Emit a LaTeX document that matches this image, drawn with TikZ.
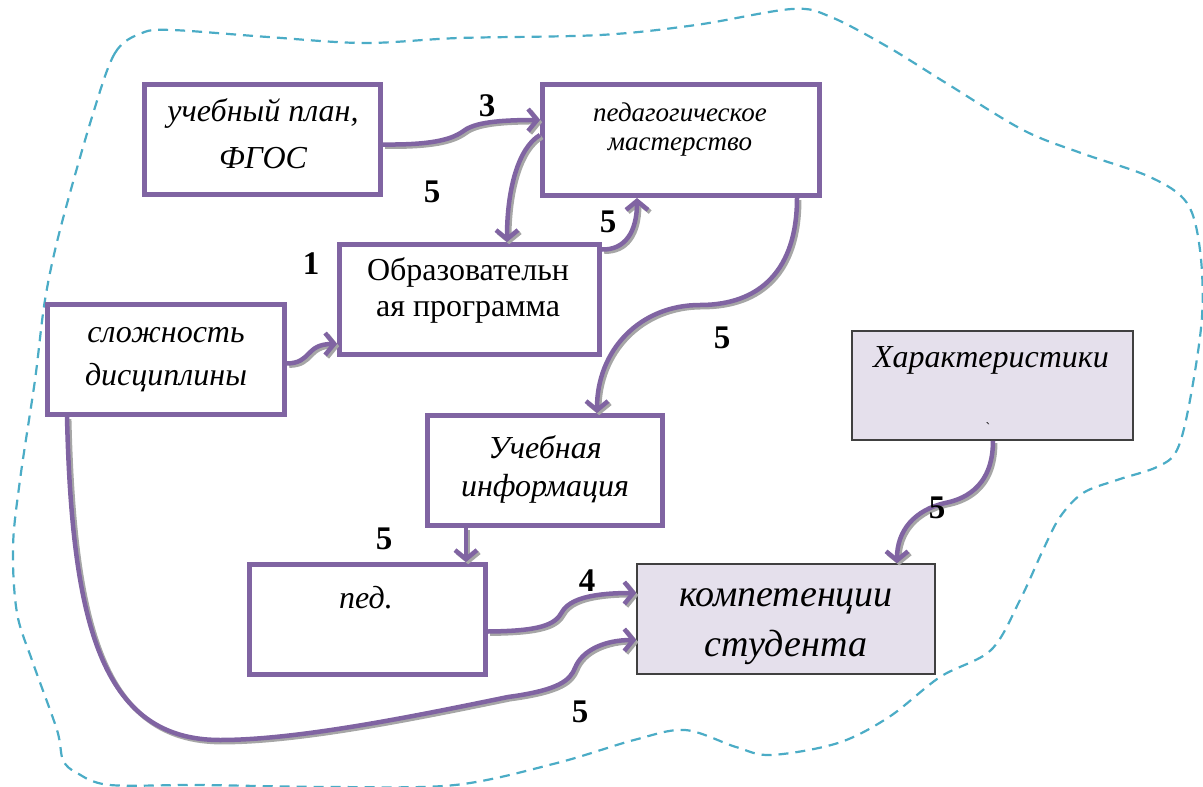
\documentclass[tikz,border=0pt]{standalone}
\usepackage{fontspec}
\setmainfont{Liberation Serif}
\usetikzlibrary{arrows.meta}
\definecolor{boxpurple}{HTML}{8064A2}
\definecolor{cloudblue}{HTML}{4BACC6}
\definecolor{lilac}{HTML}{E5E0EC}
\definecolor{edgegray}{HTML}{404040}

\begin{document}
\begin{tikzpicture}[x=1pt,y=-1pt,
  pbox/.style={draw=boxpurple, line width=5pt, fill=white, inner sep=0},
  lbox/.style={draw=edgegray, line width=1.6pt, fill=lilac, inner sep=0},
  txt/.style={font=\fontsize{32}{38}\selectfont\itshape, inner sep=0},
  uptxt/.style={font=\fontsize{32}{38}\selectfont, inner sep=0},
  num/.style={font=\fontsize{33}{38}\selectfont\bfseries, inner sep=0},
  link/.style={draw=boxpurple, line width=4.5pt,
    -{Straight Barb[length=9pt,width=22pt]},
    preaction={draw=black!35, line width=4.5pt,
      -{Straight Barb[length=9pt,width=22pt]},
      transform canvas={shift={(2.2,2.2)}}}},
  cloud/.style={draw=cloudblue, line width=2.2pt, dash pattern=on 10pt off 7pt}
]
\useasboundingbox (0,0) rectangle (1203,787);

% dashed outline around the whole scheme
\draw[cloud] plot[smooth cycle, tension=0.55] coordinates {
  (92,117) (115,53) (142,33) (172,30) (268,37) (364,43) (459,38) (600,35)
  (696,25) (792,9) (831,17) (888,47) (946,83) (1023,130) (1081,153)
  (1150,177) (1187,203) (1200,250) (1202,317) (1190,400) (1177,450)
  (1157,467) (1117,480) (1083,493) (1060,517) (1043,550) (1020,600)
  (991,650) (940,677) (889,717) (838,743) (771,755) (736,747) (685,730)
  (634,740) (557,763) (455,785) (330,787) (200,785) (110,785) (77,773)
  (63,760) (57,730) (33,663) (17,613) (13,547) (20,480) (35,380) (45,300)
  (60,230)};

% boxes
\node[pbox, minimum width=236pt, minimum height=110pt] (plan)   at (262.5,139.5) {};
\node[pbox, minimum width=277pt, minimum height=111pt] (pedag)  at (681,140) {};
\node[pbox, minimum width=260pt, minimum height=110pt] (obraz)  at (469.5,299.5) {};
\node[pbox, minimum width=237pt, minimum height=110pt] (slozh)  at (166,359.5) {};
\node[pbox, minimum width=235pt, minimum height=110pt] (info)   at (545,470.5) {};
\node[pbox, minimum width=236pt, minimum height=110pt] (ped)    at (367.5,619.5) {};
\node[lbox, minimum width=298pt, minimum height=110pt] (komp)   at (786,619) {};
\node[lbox, minimum width=281pt, minimum height=109pt] (kharakt) at (992.5,385.5) {};

% box texts
\node[txt] (planA) at (263,113) {учебный план,};
\node[txt] (planB) at (263,158) {ФГОС};
\node[txt, font=\fontsize{27}{32}\selectfont\itshape] (pedagA) at (680,112) {педагогическое};
\node[txt, font=\fontsize{27}{32}\selectfont\itshape] (pedagB) at (680,147) {мастерство};
\node[uptxt] (obrazA) at (468,272) {Образовательн};
\node[uptxt] (obrazB) at (468,312) {ая программа};
\node[txt] (slozhA) at (166,335) {сложность};
\node[txt] (slozhB) at (166,378) {дисциплины};
\node[txt] (infoA) at (545,447) {Учебная};
\node[txt] (infoB) at (545,489) {информация};
\node[txt] (pedA) at (366,598) {пед.};
\node[txt, font=\fontsize{38}{44}\selectfont\itshape] (kompA) at (786,601) {компетенции};
\node[txt, font=\fontsize{38}{44}\selectfont\itshape] (kompB) at (786,647) {студента};
\node[txt] (kharA) at (991,360) {Характеристики};
\node[inner sep=0, font=\fontsize{14}{14}\selectfont] (kharB) at (988,428) {ˋ};

% connectors
\draw[link] ([yshift=-5pt]plan.east) .. controls (430,145) and (450,140) .. (462,132)
  .. controls (472,124) and (490,120) .. ([yshift=20pt]pedag.west);
\draw[link] ([yshift=5pt]pedag.west) .. controls (518,148) and (507,190) .. ([xshift=37.5pt]obraz.north);
\draw[link] ([yshift=50pt]obraz.east) .. controls (625,250) and (637,232) .. ([xshift=-44pt]pedag.south);
\draw[link] ([xshift=116pt]pedag.south) .. controls (797,270) and (760,305) .. (700,305)
  .. controls (640,305) and (597,350) .. ([xshift=52pt]info.north);
\draw[link] ([yshift=-4pt]slozh.east) .. controls (312,363) and (305,344) .. ([yshift=-44.5pt]obraz.west);
\draw[link] ([xshift=-79pt]info.south) -- ([xshift=98.5pt]ped.north);
\draw[link] ([yshift=-12pt]ped.east) .. controls (540,631) and (555,625) .. (562,612)
  .. controls (570,598) and (595,593) .. ([yshift=26pt]komp.west);
\draw[link] ([xshift=-99pt]slozh.south) .. controls (72,620) and (100,740) .. (220,740)
  .. controls (300,740) and (420,715) .. (508,697)
  .. controls (560,690) and (570,680) .. (575,668)
  .. controls (582,650) and (605,640) .. ([yshift=-21pt]komp.west);
\draw[link] ([xshift=0.5pt]kharakt.south) .. controls (993,490) and (960,500) .. (945,503)
  .. controls (915,510) and (897,530) .. ([xshift=111pt]komp.north);

% weights
\node[num] (w3)  at (487,106) {3};
\node[num] (w5a) at (432,192) {5};
\node[num] (w5b) at (608,222) {5};
\node[num] (w1)  at (311,264) {1};
\node[num] (w5c) at (722,338) {5};
\node[num] (w5d) at (937,508) {5};
\node[num] (w5e) at (384,539) {5};
\node[num] (w4)  at (587,581) {4};
\node[num] (w5f) at (580,712) {5};
\end{tikzpicture}
\end{document}
